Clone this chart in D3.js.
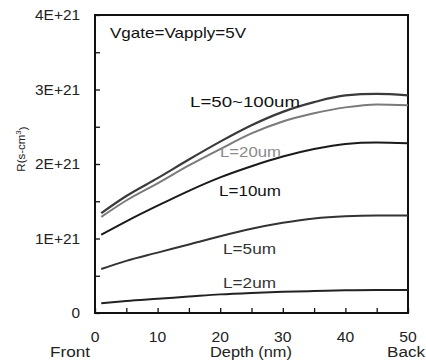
<!DOCTYPE html>
<html>
<head>
<meta charset="utf-8">
<script src="https://cdn.jsdelivr.net/npm/d3@7"></script>
<style>
  body { margin: 0; background: #fff; }
  svg { font-family: 'Liberation Sans', Arial, sans-serif; }
</style>
</head>
<body>
<div id="chart-container"></div>
<script>
// depth positions (nm) and R values in units of 1E+21
const depth = [1, 5, 10, 15, 20, 25, 30, 35, 40, 45, 50];
const l50to100 = [1.34, 1.57, 1.81, 2.06, 2.30, 2.52, 2.70, 2.83, 2.92, 2.94, 2.92];
const l20 = [1.29, 1.51, 1.74, 1.98, 2.20, 2.41, 2.57, 2.68, 2.76, 2.80, 2.79];
const l10 = [1.05, 1.23, 1.44, 1.64, 1.82, 1.97, 2.10, 2.20, 2.27, 2.29, 2.28];
const l5 = [0.59, 0.70, 0.81, 0.92, 1.03, 1.13, 1.21, 1.27, 1.30, 1.31, 1.31];
const l2 = [0.13, 0.16, 0.19, 0.22, 0.25, 0.27, 0.285, 0.295, 0.305, 0.31, 0.31];

const seriesNames = ['L=50~100um', 'L=20um', 'L=10um', 'L=5um', 'L=2um'];
const seriesValues = [l50to100, l20, l10, l5, l2];

const xTicks = [0, 10, 20, 30, 40, 50];
const yTicks = [0, 1, 2, 3, 4];
const yTickLabels = ['0', '1E+21', '2E+21', '3E+21', '4E+21'];

// look of each curve and where its label sits (page pixels)
const curveStyle = [
  { color: '#3a3a3a', width: 2.2, lx: 190, ly: 107, lw: 110, lc: '#111' },
  { color: '#7a7a7a', width: 2, lx: 220, ly: 157, lw: 61, lc: '#8a8a8a' },
  { color: '#1a1a1a', width: 2, lx: 219, ly: 196, lw: 62, lc: '#111' },
  { color: '#333', width: 2, lx: 223, ly: 254, lw: 53, lc: '#333' },
  { color: '#222', width: 2, lx: 223, ly: 288, lw: 53, lc: '#333' }
];

const margin = { top: 15, right: 18, bottom: 47, left: 95 };
const width = 426 - margin.left - margin.right;
const height = 360 - margin.top - margin.bottom;

// the original lettering is a bit wider than Arial, so stretch text to fit
function stretch(sel, factor) {
  sel.each(function () {
    const w = this.getComputedTextLength();
    d3.select(this).attr('textLength', w * factor).attr('lengthAdjust', 'spacingAndGlyphs');
  });
}
function fit(sel, w) {
  sel.attr('textLength', w).attr('lengthAdjust', 'spacingAndGlyphs');
}

const svg = d3
  .select('#chart-container')
  .append('svg')
  .attr('width', 426)
  .attr('height', 360)
  .append('g')
  .attr('transform', `translate(${margin.left}, ${margin.top})`);

const x = d3.scaleLinear().domain([0, 50]).range([0, width]);
const y = d3.scaleLinear().domain([0, 4]).range([height, 0]);

// inward ticks, every 5 nm and every 0.5E+21
svg
  .append('g')
  .attr('transform', `translate(0,${height})`)
  .call(d3.axisBottom(x).tickValues(d3.range(0, 51, 5)).tickSize(-5).tickFormat(''))
  .call((g) => g.select('.domain').remove())
  .selectAll('line')
  .attr('stroke', '#111')
  .attr('stroke-width', 1.3);

svg
  .append('g')
  .call(d3.axisLeft(y).tickValues(d3.range(0, 4.01, 0.5)).tickSize(-5).tickFormat(''))
  .call((g) => g.select('.domain').remove())
  .selectAll('line')
  .attr('stroke', '#111')
  .attr('stroke-width', 1.3);

// frame
svg
  .append('rect')
  .attr('width', width)
  .attr('height', height)
  .attr('fill', 'none')
  .attr('stroke', '#111')
  .attr('stroke-width', 2);

// tick labels
svg
  .selectAll('.ylab')
  .data(yTicks)
  .join('text')
  .attr('x', -15)
  .attr('y', (d) => y(d))
  .attr('dy', '0.36em')
  .attr('text-anchor', 'end')
  .style('font-size', '14px')
  .style('fill', '#222')
  .text((d, i) => yTickLabels[i])
  .call(stretch, 1.1);

svg
  .selectAll('.xlab')
  .data(xTicks)
  .join('text')
  .attr('x', (d) => x(d))
  .attr('y', height + 29)
  .attr('text-anchor', 'middle')
  .style('font-size', '14px')
  .style('fill', '#222')
  .text((d) => d)
  .call(stretch, 1.12);

svg
  .append('text')
  .attr('x', -45)
  .attr('y', height + 44)
  .style('font-size', '14px')
  .style('fill', '#222')
  .text('Front')
  .call(fit, 40);

svg
  .append('text')
  .attr('x', width - 21)
  .attr('y', height + 44)
  .style('font-size', '14px')
  .style('fill', '#222')
  .text('Back')
  .call(fit, 38);

svg
  .append('text')
  .attr('x', 210 - margin.left)
  .attr('y', height + 44)
  .style('font-size', '14px')
  .style('fill', '#222')
  .text('Depth (nm)')
  .call(fit, 82);

// y axis title
const yTitle = svg
  .append('text')
  .attr('transform', `translate(-70, ${height / 2 - 15}) rotate(-90)`)
  .attr('text-anchor', 'middle')
  .style('font-size', '11.5px')
  .style('fill', '#222');
yTitle.append('tspan').text('R(s-cm');
yTitle.append('tspan').attr('dy', '-0.45em').style('font-size', '8px').text('3');
yTitle.append('tspan').attr('dy', '0.45em').text(')');

// condition label
svg
  .append('text')
  .attr('x', 15)
  .attr('y', 23)
  .style('font-size', '15px')
  .style('fill', '#111')
  .text('Vgate=Vapply=5V')
  .call(fit, 136);

// curves
const line = d3
  .line()
  .x((d) => x(d[0]))
  .y((d) => y(d[1]))
  .curve(d3.curveMonotoneX);

svg
  .selectAll('.curve')
  .data(seriesValues)
  .join('path')
  .attr('fill', 'none')
  .attr('stroke', (d, i) => curveStyle[i].color)
  .attr('stroke-width', (d, i) => curveStyle[i].width)
  .attr('d', (d) => line(depth.map((v, i) => [v, d[i]])));

// curve labels
svg
  .selectAll('.clab')
  .data(seriesNames)
  .join('text')
  .attr('x', (d, i) => curveStyle[i].lx - margin.left)
  .attr('y', (d, i) => curveStyle[i].ly - margin.top)
  .attr('textLength', (d, i) => curveStyle[i].lw)
  .attr('lengthAdjust', 'spacingAndGlyphs')
  .style('font-size', '15px')
  .style('fill', (d, i) => curveStyle[i].lc)
  .text((d) => d);
</script>
</body>
</html>
